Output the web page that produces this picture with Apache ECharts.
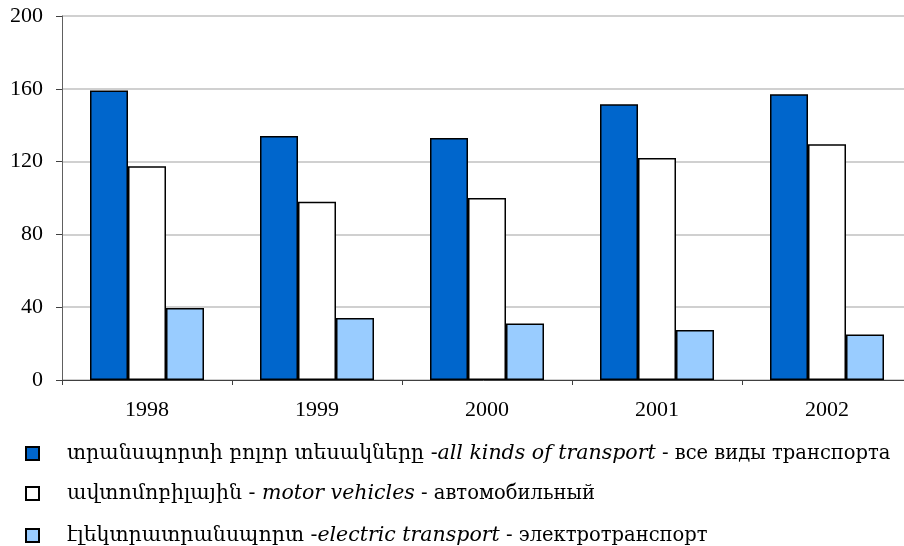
<!DOCTYPE html>
<html lang="hy">
<head>
<meta charset="utf-8">
<title>Transport</title>
<style>html,body{margin:0;padding:0;background:#fff;}</style>
</head>
<body>
<div id="main" style="width:904px;height:546px;"></div>
<script src="https://cdn.jsdelivr.net/npm/echarts@6/dist/echarts.min.js"></script>
<script>
// data
var categories = ['1998', '1999', '2000', '2001', '2002'];
var allKinds = [159, 134, 133, 151.5, 157];
var motorVehicles = [117.5, 98, 100, 122, 129.5];
var electric = [39.5, 34, 31, 27.5, 25];
var yTicks = [0, 40, 80, 120, 160, 200];

// legend texts: [armenian, english (italic), russian]
var names = [
    ['տրանսպորտի բոլոր տեսակները -', 'all kinds of transport', ' - все виды транспорта'],
    ['ավտոմոբիլային - ', 'motor vehicles', ' - автомобильный'],
    ['էլեկտրատրանսպորտ -', 'electric transport', ' - электротранспорт']
];
var colors = ['#0066CC', '#FFFFFF', '#99CCFF'];
var values = [allKinds, motorVehicles, electric];

var serif = "'Liberation Serif', 'Times New Roman', serif";
var wide = "'DejaVu Serif', 'Liberation Serif', serif";
var myChart = echarts.init(document.getElementById('main'));

var series = [];
var legends = [];
var legendTops = [443, 483, 525];
values.forEach(function (data, i) {
    var key = names[i].join('');
    series.push({
        name: key,
        type: 'bar',
        data: data,
        barWidth: 38,
        barGap: '0%',
        itemStyle: {
            color: colors[i],
            borderColor: '#000',
            borderWidth: 1.5
        }
    });
    legends.push({
        data: [key],
        left: 25,
        top: legendTops[i],
        padding: 0,
        itemWidth: 13,
        itemHeight: 13,
        icon: 'rect',
        selectedMode: false,
        formatter: function () {
            return '{a|' + names[i][0] + '}{it|' + names[i][1] + '}{n|' + names[i][2] + '}';
        },
        textStyle: {
            padding: [0, 0, 0, 23],
            rich: {
                a: { fontFamily: wide, fontSize: 20.5, color: '#000' },
                n: { fontFamily: wide, fontSize: 19.5, color: '#000' },
                it: { fontFamily: wide, fontSize: 20.5, fontStyle: 'italic', color: '#000' }
            }
        }
    });
});

var option = {
    animation: false,
    backgroundColor: '#fff',
    grid: { left: 62, width: 850, top: 16, bottom: 166, outerBoundsMode: 'none' },
    legend: legends,
    xAxis: {
        type: 'category',
        data: categories,
        axisLine: { lineStyle: { color: '#404040', width: 1 } },
        axisTick: { show: true, length: 5, lineStyle: { color: '#404040' } },
        axisLabel: { fontFamily: serif, fontSize: 22, color: '#000', margin: 19 },
        splitLine: { show: false }
    },
    yAxis: {
        type: 'value',
        min: yTicks[0],
        max: yTicks[yTicks.length - 1],
        interval: yTicks[1] - yTicks[0],
        axisLine: { show: true, lineStyle: { color: '#606060', width: 1 } },
        axisTick: { show: true, length: 6, lineStyle: { color: '#404040' } },
        axisLabel: { fontFamily: serif, fontSize: 22, color: '#000', margin: 19 },
        splitLine: { show: true, lineStyle: { color: '#c0c0c0', width: 1.5 } }
    },
    series: series
};
myChart.setOption(option);
</script>
</body>
</html>
